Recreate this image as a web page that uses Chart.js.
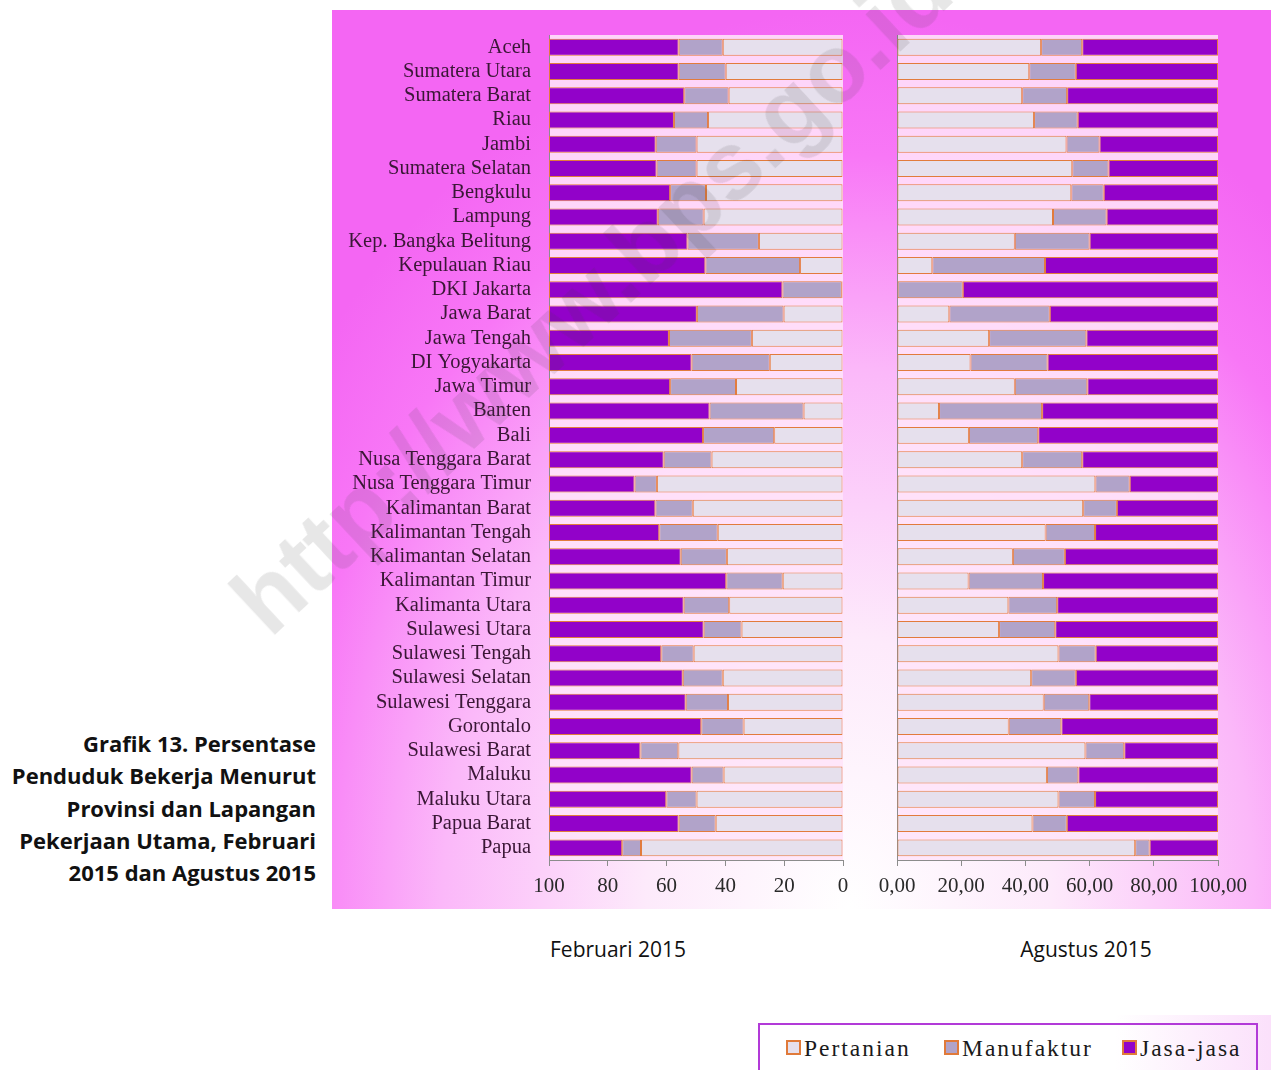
<!DOCTYPE html>
<html lang="id">
<head>
<meta charset="utf-8">
<title>Grafik 13. Persentase Penduduk Bekerja Menurut Provinsi dan Lapangan Pekerjaan Utama</title>
<script src="https://cdn.jsdelivr.net/npm/chart.js@4.4.1/dist/chart.umd.min.js"></script>
<style>
  html, body { margin: 0; padding: 0; background: #ffffff; }
  body { width: 1271px; height: 1070px; position: relative; overflow: hidden; }
  #panel {
    position: absolute; left: 332px; top: 10px; width: 939px; height: 899px;
    background: radial-gradient(ellipse 72% 100% at 55% 100%, #ffffff 0%, #fdeafb 30%, #fbb8f9 60%, #f877f6 84%, #f466f3 100%);
  }
  canvas { position: absolute; }
  #febChart { left: 332px; top: 10px; }
  #augChart { left: 870px; top: 10px; }
  #title {
    position: absolute; left: 0; top: 727px; width: 316px;
    text-align: right; font-family: "Open Sans", Lato, sans-serif; font-weight: bold;
    font-size: 22px; line-height: 32.3px; color: #111; white-space: nowrap;
  }
  .period {
    position: absolute; top: 935px; font-family: "Open Sans", Lato, sans-serif;
    font-size: 21px; color: #111; transform: translateX(-50%); white-space: nowrap;
  }
  #legendPanel {
    position: absolute; left: 750px; top: 1015px; width: 521px; height: 55px;
    background: linear-gradient(90deg, #ffffff 0%, #ffffff 70%, #fbe0fb 100%);
  }
  #legend {
    position: absolute; left: 758px; top: 1023px; width: 500px; height: 60px;
    border: 2px solid #b23ad8; box-sizing: border-box; background: transparent;
    font-family: "Liberation Serif", serif; font-size: 23.5px; letter-spacing: 2px; color: #1a1a1a;
  }
  .item { position: absolute; top: 10px; white-space: nowrap; }
  .swatch {
    display: inline-block; width: 11px; height: 11px; border: 2px solid #e07a3a;
    vertical-align: 1px; margin-right: 3px;
  }
  #watermark {
    position: absolute; left: 210px; top: 575px; transform-origin: 0 0; transform: rotate(-43deg);
    font-family: "Liberation Sans", sans-serif; font-weight: bold; font-size: 96px;
    color: rgba(60, 60, 60, 0.12); white-space: nowrap; pointer-events: none;
  }
</style>
</head>
<body>
<div id="panel"></div>
<canvas id="febChart" width="538" height="900"></canvas>
<canvas id="augChart" width="401" height="900"></canvas>
<div id="title">Grafik 13. Persentase<br>Penduduk Bekerja Menurut<br>Provinsi dan Lapangan<br>Pekerjaan Utama, Februari<br>2015 dan Agustus 2015</div>
<div class="period" style="left:618px">Februari 2015</div>
<div class="period" style="left:1086px">Agustus 2015</div>
<div id="legendPanel"></div>
<div id="legend"></div>
<div id="watermark">http://www.bps.go.id</div>
<script>
// Provinces, top to bottom
const provinces = [
  'Aceh', 'Sumatera Utara', 'Sumatera Barat', 'Riau', 'Jambi', 'Sumatera Selatan',
  'Bengkulu', 'Lampung', 'Kep. Bangka Belitung', 'Kepulauan Riau', 'DKI Jakarta',
  'Jawa Barat', 'Jawa Tengah', 'DI Yogyakarta', 'Jawa Timur', 'Banten', 'Bali',
  'Nusa Tenggara Barat', 'Nusa Tenggara Timur', 'Kalimantan Barat', 'Kalimantan Tengah',
  'Kalimantan Selatan', 'Kalimantan Timur', 'Kalimanta Utara', 'Sulawesi Utara',
  'Sulawesi Tengah', 'Sulawesi Selatan', 'Sulawesi Tenggara', 'Gorontalo',
  'Sulawesi Barat', 'Maluku', 'Maluku Utara', 'Papua Barat', 'Papua'
];

const sectorNames = ['Pertanian', 'Manufaktur', 'Jasa-jasa'];

// Februari 2015 (%)
const febPertanian = [40.9, 39.9, 38.9, 45.9, 49.8, 49.8, 46.6, 47.4, 28.6, 14.6, 0.4,
  20.2, 31.0, 24.9, 36.4, 13.4, 23.4, 44.7, 63.3, 51.1, 42.6, 39.5, 20.5, 38.7, 34.5,
  50.8, 40.9, 39.1, 33.8, 56.0, 40.6, 49.8, 43.3, 68.7];
const febManufaktur = [15.0, 16.0, 15.1, 11.6, 13.9, 13.6, 12.2, 15.6, 24.3, 32.2, 20.2,
  29.5, 28.2, 26.6, 22.4, 32.0, 24.2, 16.3, 7.6, 12.7, 19.9, 15.7, 19.2, 15.5, 12.9,
  11.0, 13.6, 14.4, 14.4, 12.9, 10.9, 10.3, 12.6, 6.4];
const febJasa = [44.1, 44.1, 46.0, 42.5, 36.3, 36.6, 41.2, 37.0, 47.1, 53.2, 79.4,
  50.3, 40.8, 48.5, 41.2, 54.6, 52.4, 39.0, 29.1, 36.2, 37.5, 44.8, 60.3, 45.8, 52.6,
  38.2, 45.5, 46.5, 51.8, 31.1, 48.5, 39.9, 44.1, 24.9];

// Agustus 2015 (%)
const augPertanian = [44.9, 41.2, 39.0, 42.7, 52.8, 54.6, 54.3, 48.6, 36.7, 11.0, 0.2,
  16.3, 28.7, 22.9, 36.7, 13.1, 22.4, 39.0, 61.8, 58.0, 46.3, 36.1, 22.3, 34.7, 31.8,
  50.3, 41.8, 45.7, 34.8, 58.7, 46.7, 50.3, 42.2, 74.2];
const augManufaktur = [12.8, 14.5, 14.0, 13.6, 10.3, 11.3, 10.1, 16.7, 23.3, 35.1, 20.3,
  31.3, 30.3, 24.0, 22.6, 32.1, 21.6, 18.7, 10.7, 10.5, 15.4, 16.2, 23.2, 15.2, 17.5,
  11.6, 13.9, 14.2, 16.4, 12.1, 9.8, 11.4, 10.7, 4.5];
const augJasa = [42.3, 44.3, 47.0, 43.7, 36.9, 34.1, 35.6, 34.7, 40.0, 53.9, 79.5,
  52.4, 41.0, 53.1, 40.7, 54.8, 56.0, 42.3, 27.5, 31.5, 38.3, 47.7, 54.5, 50.1, 50.7,
  38.1, 44.3, 40.1, 48.8, 29.2, 43.5, 38.3, 47.1, 21.3];

const fills = ['#e6e0ed', '#b1a3c9', '#9202c9'];
const edge = '#e27b3c';
const serif = '"Liberation Serif", "DejaVu Serif", serif';

function datasets(p, m, j) {
  return [p, m, j].map((vals, i) => ({
    label: sectorNames[i],
    data: vals,
    backgroundColor: fills[i],
    borderColor: edge,
    borderWidth: 1,
    borderSkipped: false,
    barPercentage: 0.7,
    categoryPercentage: 1.0
  }));
}

// light wash behind the bars
const plotWash = {
  id: 'plotWash',
  beforeDraw(chart) {
    const a = chart.chartArea, ctx = chart.ctx;
    ctx.save();
    ctx.fillStyle = 'rgba(255, 228, 249, 0.88)';
    ctx.fillRect(a.left, a.top, a.right - a.left, a.bottom - a.top);
    ctx.restore();
  }
};

function baseOptions(reverse, yWidth, pad, tickFmt, showLabels) {
  return {
    indexAxis: 'y',
    responsive: false,
    maintainAspectRatio: false,
    devicePixelRatio: 1,
    animation: false,
    layout: { padding: pad },
    plugins: { legend: { display: false }, tooltip: { enabled: false } },
    scales: {
      x: {
        stacked: true, min: 0, max: 100, reverse: reverse,
        afterFit(s) { s.height = 40; },
        grid: { drawOnChartArea: false, drawTicks: true, tickLength: 6, color: '#8c8c8c' },
        border: { display: true, color: '#8c8c8c' },
        ticks: { stepSize: 20, padding: 8, color: '#2a2a2a', font: { family: serif, size: 21 },
                 callback: tickFmt, maxRotation: 0 }
      },
      y: {
        stacked: true,
        afterFit(s) { s.width = yWidth; s.paddingTop = 0; s.paddingBottom = 0; },
        grid: { drawOnChartArea: false, drawTicks: false },
        border: { display: true, color: '#8c8c8c' },
        ticks: { display: showLabels, padding: 18, color: '#3a1736', font: { family: serif, size: 20.5 },
                 autoSkip: false }
      }
    }
  };
}

const febChart = new Chart(document.getElementById('febChart'), {
  type: 'bar',
  data: { labels: provinces, datasets: datasets(febPertanian, febManufaktur, febJasa) },
  options: baseOptions(true, 217, { top: 25, right: 27, bottom: 10, left: 0 },
    v => String(v), true),
  plugins: [plotWash]
});

const augChart = new Chart(document.getElementById('augChart'), {
  type: 'bar',
  data: { labels: provinces, datasets: datasets(augPertanian, augManufaktur, augJasa) },
  options: baseOptions(false, 27, { top: 25, right: 53, bottom: 10, left: 0 },
    v => v.toFixed(2).replace('.', ','), false),
  plugins: [plotWash]
});

// legend built from the dataset labels and colours
const legend = document.getElementById('legend');
const itemLeft = [26, 184, 362];
febChart.data.datasets.forEach((ds, i) => {
  const el = document.createElement('span');
  el.className = 'item';
  el.style.left = itemLeft[i] + 'px';
  const sw = document.createElement('span');
  sw.className = 'swatch';
  sw.style.background = ds.backgroundColor;
  el.appendChild(sw);
  el.appendChild(document.createTextNode(ds.label));
  legend.appendChild(el);
});
</script>
</body>
</html>
